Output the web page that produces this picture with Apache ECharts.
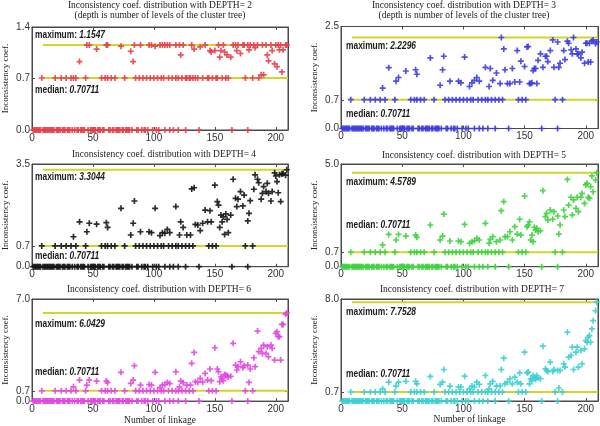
<!DOCTYPE html>
<html><head><meta charset="utf-8">
<script src="https://cdn.jsdelivr.net/npm/echarts@6/dist/echarts.min.js"></script>
<style>html,body{margin:0;padding:0;background:#fff}#c{width:600px;height:426px}</style>
</head><body><div id="c"></div>
<script>
// ---------- DATA ----------
const depths = [2, 3, 4, 5, 6, 7];
const maxValues = [1.1547, 2.2296, 3.3044, 4.5789, 6.0429, 7.7528];
const medianValue = 0.70711;
const yTopTicks = [1.4, 2.5, 3.5, 5.0, 7.0, 8.0];
const xTicks = [0, 50, 100, 150, 200];
const xMax = 210;
const refLineX = [9, 210];

// linkages whose coefficient is 0 (all depths)
const zeroX = [1,2,3,4,5,6,7,9,10,11,12,13,14,15,16,17,18,20,21,22,23,25,26,27,29,30,31,33,35,37,38,40,41,42,43,46,48,49,50,51,52,54,55,56,58,59,63,64,66,67,69,70,71,72,74,75,77,78,79,80,82,86,87,90,92,93,95,99,102,104,109,113,116,120,126,137,164,177];
// linkages whose coefficient is the median 0.70711 (all depths)
const medX = [8,19,24,28,32,36,44,57,60,62,65,68,76,85,88,91,94,97,100,103,106,108,112,115,118,120,123,126,129,132,145,148,151,175,181];
// remaining linkages, values per depth
const upperX = [34,39,45,47,53,61,62,73,81,83,
  84,89,96,98,101,105,107,109,111,113,
  118,121,122,124,127,130,131,133,134,136,
  138,140,142,144,146,147,150,152,153,154,
  155,156,157,158,159,160,161,163,165,167,
  168,169,171,173,174,177,178,179,182,183,
  185,186,188,189,190,192,193,194,196,197,
  199,200,201,202,203,204,205,206,208,209];
const depth2Values = [0.7071,0.93,1.1547,1.1547,1.10,1.1547,1.1547,1.14,1.07,0.93,
  1.1547,1.1547,1.1547,1.1547,1.14,1.1547,1.1547,1.1547,1.1547,1.1547,
  1.1547,1.1547,1.02,1.1547,0.7071,0.7071,1.1547,1.10,0.7071,0.7071,
  1.13,0.7071,1.1547,0.7071,1.08,1.06,1.08,0.7071,1.1547,0.99,
  1.08,0.7071,1.1547,1.06,0.7071,1.02,0.7071,0.99,1.1547,1.1547,
  1.08,1.1547,1.04,1.1547,1.1547,1.1547,1.09,1.1547,1.1547,1.12,
  1.1547,0.7071,0.75,1.1547,0.75,1.1547,1.02,0.94,1.1547,1.08,
  0.90,1.1547,0.86,1.1547,1.09,1.1547,0.79,1.09,1.1547,1.1547];
const depth3Values = [0.99,1.49,1.16,1.25,1.41,1.44,1.33,1.73,1.06,1.44,
  1.77,1.16,1.16,1.12,1.75,1.03,1.12,1.18,1.25,1.16,
  1.50,1.03,1.47,1.18,1.36,1.10,2.2296,1.95,1.44,1.10,
  1.10,1.47,1.14,1.91,1.14,1.65,1.52,2.00,2.01,1.10,
  1.10,1.12,1.42,1.47,1.47,1.10,1.67,1.83,1.50,1.77,
  1.77,1.64,1.91,2.17,1.50,2.12,1.50,1.60,1.91,1.69,
  2.14,2.09,1.93,1.83,2.2296,1.95,1.83,1.83,1.73,1.87,
  1.60,2.09,2.09,1.63,2.09,1.63,2.14,2.17,2.08,2.12];
const depth4Values = [1.02,1.53,1.19,1.48,1.45,1.50,1.34,1.99,1.08,1.48,
  2.24,1.19,1.19,1.16,1.99,1.06,1.16,1.14,1.27,1.16,
  2.05,1.08,1.53,1.34,1.08,1.08,2.65,2.69,1.44,1.42,
  1.23,1.48,1.93,1.53,1.91,1.53,2.78,2.22,2.10,1.34,
  1.76,1.53,1.70,1.10,1.80,1.61,1.16,1.76,2.98,2.33,
  2.05,2.30,2.56,2.07,2.44,1.56,1.82,2.25,2.64,3.13,
  2.98,2.86,2.30,2.50,2.73,2.56,2.84,2.50,2.24,2.56,
  3.20,3.09,2.90,2.52,3.13,2.22,3.16,3.18,3.12,3.3044];
const depth5Values = [1.06,1.57,1.30,1.57,1.49,1.54,1.43,2.03,1.30,1.49,
  2.56,1.25,1.25,1.22,2.06,1.14,1.22,1.26,1.38,1.30,
  2.11,1.14,1.33,1.46,1.22,1.30,2.73,3.17,1.46,1.46,
  1.70,1.30,1.95,1.59,2.31,1.54,3.44,1.95,2.03,2.19,
  1.30,1.54,1.22,1.92,1.79,1.87,1.70,1.75,3.70,2.44,
  2.60,2.27,2.76,2.31,2.68,2.47,1.59,2.03,2.76,2.44,
  4.25,3.00,3.38,2.52,3.25,2.84,3.38,2.68,3.38,3.57,
  3.08,3.98,4.06,3.38,3.33,3.90,4.42,3.65,4.22,4.5789];
const depth6Values = [0.98,1.44,1.10,1.44,1.37,1.37,1.26,1.97,1.21,1.44,
  2.43,1.10,1.14,1.10,1.97,0.92,1.10,1.14,1.28,1.20,
  2.01,0.98,1.37,1.26,1.10,1.10,2.59,3.34,1.33,1.30,
  1.56,1.30,1.90,1.44,2.20,1.40,3.66,2.20,2.01,1.33,
  1.67,1.56,1.40,1.83,1.78,1.74,1.65,1.70,3.96,2.47,
  2.13,2.36,2.70,2.29,2.43,2.47,1.28,2.20,2.97,2.36,
  4.80,3.39,3.62,3.27,3.84,3.27,3.73,3.04,3.84,3.62,
  2.81,4.64,4.76,4.42,4.42,2.81,5.26,5.26,5.95,6.0429];
const depth7Values = [0.96,1.48,1.17,1.48,1.54,1.54,1.35,1.93,1.30,1.48,
  2.47,1.17,1.10,1.10,1.95,0.96,1.17,1.10,1.48,1.30,
  2.00,0.96,1.35,1.54,1.17,1.20,2.47,3.36,1.35,1.48,
  1.74,1.35,1.87,1.48,2.21,1.35,3.83,2.21,2.27,1.35,
  1.74,1.60,2.00,1.87,1.70,2.00,1.80,1.75,4.30,2.53,
  2.40,2.32,3.05,2.32,2.47,2.40,1.02,2.40,2.92,2.66,
  5.39,3.44,3.57,4.22,2.47,3.83,4.22,2.66,3.96,2.92,
  4.09,4.74,4.61,5.00,5.13,4.61,5.65,6.30,7.08,7.7528];
const upperValues = [depth2Values, depth3Values, depth4Values, depth5Values, depth6Values, depth7Values];

const titleLine1 = 'Inconsistency coef. distribution with DEPTH= ';
const titleLine2 = '(depth is number of levels of the cluster tree)';
const yName = 'Inconsistency coef.';
const xName = 'Number of linkage';

// ---------- STYLE / LAYOUT ----------
const colors = ['#e5404a', '#3c3ce0', '#151515', '#3ed23e', '#e048e0', '#3ccfcf'];
const layout = [
  {left: 32,  top: 27,  w: 256, h: 103, tx: 160, ty: [5, 15.7], maxPos: [35, 35],    medPos: [35, 90]},
  {left: 341, top: 26.5,w: 257, h: 102, tx: 464, ty: [5, 15.7], maxPos: [346, 46],   medPos: [346, 114.3]},
  {left: 32,  top: 164, w: 256, h: 102.7, tx: 164, ty: [154],   maxPos: [35, 177.3], medPos: [35, 256]},
  {left: 341, top: 164, w: 257, h: 102.7, tx: 474, ty: [155],   maxPos: [346, 181.7],medPos: [346, 225]},
  {left: 32,  top: 299, w: 256, h: 102.3, tx: 159, ty: [289.3], maxPos: [35, 324.3], medPos: [35, 372]},
  {left: 341, top: 299, w: 257, h: 102, tx: 472, ty: [289.3],   maxPos: [346, 312],  medPos: [346, 373.7]}
];
const serif = '"Liberation Serif", "DejaVu Serif", serif';
const sans = '"Liberation Sans", Arial, sans-serif';
const plus = 'path://M3.6,0H6.4V3.6H10V6.4H6.4V10H3.6V6.4H0V3.6H3.6Z';
const axisColor = '#4a4a4a';
const yellow = '#d4d42c';

const grids = [], xAxes = [], yAxes = [], series = [], graphics = [];
depths.forEach((d, i) => {
  const L = layout[i];
  const yTicks = [0, 0.7, yTopTicks[i]];
  grids.push({left: L.left, top: L.top, width: L.w, height: L.h, show: true,
    borderColor: axisColor, borderWidth: 1, backgroundColor: '#fff'});
  const lastRow = i >= 4;
  const baseX = {gridIndex: i, type: 'value', min: 0, max: xMax, interval: 50,
    axisLine: {show: true, onZero: false, lineStyle: {color: axisColor, width: 1}},
    axisTick: {show: true, inside: true, length: 3, customValues: xTicks, lineStyle: {color: axisColor}},
    splitLine: {show: false}};
  xAxes.push(Object.assign({}, baseX, {position: 'bottom',
    axisLabel: {show: true, customValues: xTicks, margin: 3, fontSize: 10, fontFamily: sans, color: '#333'},
    name: lastRow ? xName : '', nameLocation: 'middle', nameGap: 12,
    nameTextStyle: {fontFamily: serif, fontSize: 9.5, color: '#222'}}));
  xAxes.push(Object.assign({}, baseX, {position: 'top', axisLabel: {show: false}}));
  const baseY = {gridIndex: i, type: 'value', min: 0, max: yTopTicks[i],
    axisLine: {show: true, onZero: false, lineStyle: {color: axisColor, width: 1}},
    axisTick: {show: true, inside: true, length: 3, customValues: yTicks, lineStyle: {color: axisColor}},
    splitLine: {show: false}};
  yAxes.push(Object.assign({}, baseY, {position: 'left',
    axisLabel: {show: true, customValues: yTicks, margin: 2, fontSize: 10, fontFamily: sans, color: '#333',
      formatter: v => Number(v).toFixed(1)},
    name: yName, nameLocation: 'middle', nameGap: 22,
    nameTextStyle: {fontFamily: serif, fontSize: 9, color: '#222'}}));
  yAxes.push(Object.assign({}, baseY, {position: 'right', axisLabel: {show: false}}));

  const xi = i * 2, yi = i * 2;
  [maxValues[i], medianValue].forEach(v => {
    series.push({type: 'line', xAxisIndex: xi, yAxisIndex: yi, symbol: 'none', silent: true, z: 2,
      data: refLineX.map(x => [x, v]), lineStyle: {color: yellow, width: 2}});
  });
  const pts = [];
  zeroX.forEach(x => pts.push([x, 0]));
  medX.forEach(x => pts.push([x, medianValue]));
  upperX.forEach((x, k) => pts.push([x, upperValues[i][k]]));
  series.push({type: 'scatter', xAxisIndex: xi, yAxisIndex: yi, data: pts, symbol: plus, symbolSize: 6,
    clip: false, z: 3, itemStyle: {color: colors[i], opacity: 0.9}});

  // titles
  const lines = i < 2 ? [titleLine1 + d, titleLine2] : [titleLine1 + d];
  lines.forEach((t, k) => graphics.push({type: 'text', x: L.tx, y: L.ty[k], z: 10,
    style: {text: t, fontFamily: serif, fontSize: 9.5, fill: '#222', align: 'center', verticalAlign: 'middle'}}));
  // annotations
  const rich = {a: {fontFamily: sans, fontWeight: 'bold', fontSize: 10.5, fill: '#1a1a1a'},
                b: {fontFamily: sans, fontWeight: 'bold', fontStyle: 'italic', fontSize: 10.5, fill: '#1a1a1a'}};
  graphics.push({type: 'text', x: L.maxPos[0], y: L.maxPos[1], scaleX: 0.8, z: 10,
    style: {text: '{a|maximum: }{b|' + maxValues[i].toFixed(4) + '}', rich, verticalAlign: 'middle'}});
  graphics.push({type: 'text', x: L.medPos[0], y: L.medPos[1], scaleX: 0.8, z: 10,
    style: {text: '{a|median: }{b|' + medianValue.toFixed(5) + '}', rich, verticalAlign: 'middle'}});
});

const chart = echarts.init(document.getElementById('c'), null, {renderer: 'canvas', width: 600, height: 426});
chart.setOption({animation: false, backgroundColor: '#fff', grid: grids, xAxis: xAxes, yAxis: yAxes,
  series: series, graphic: graphics});
</script></body></html>
